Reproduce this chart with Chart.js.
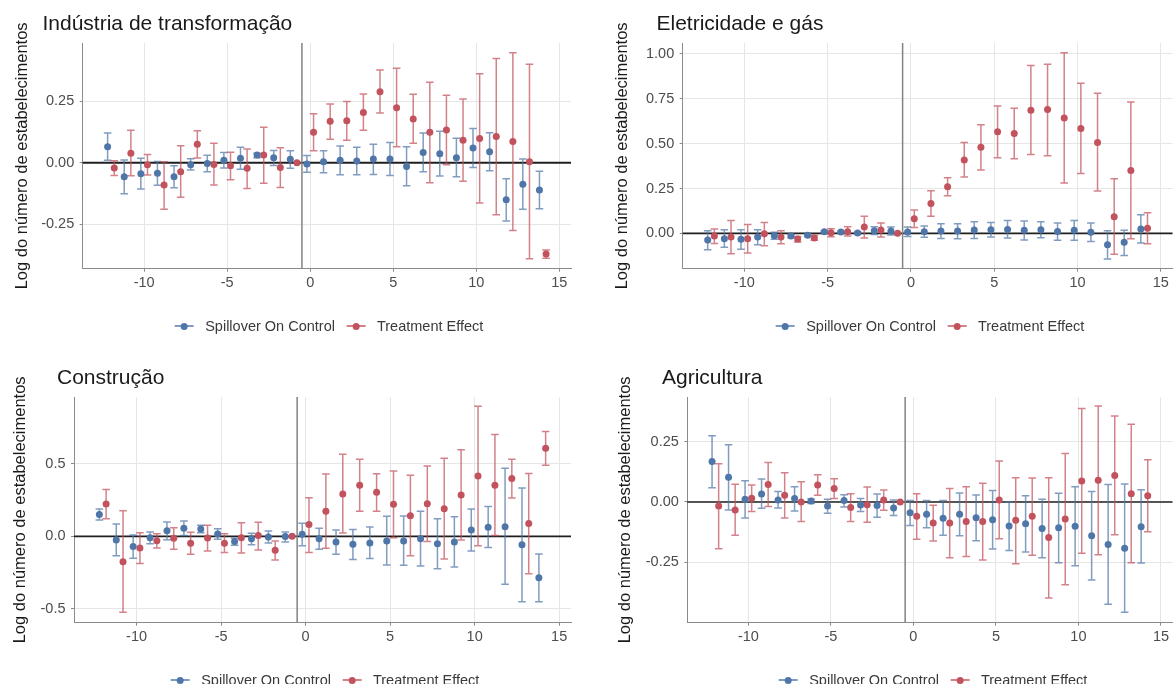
<!DOCTYPE html>
<html>
<head>
<meta charset="utf-8">
<script src="https://cdn.jsdelivr.net/npm/chart.js@4.4.1/dist/chart.umd.min.js"></script>
<style>
  html, body { margin: 0; padding: 0; background: #fff; }
  body { width: 1176px; height: 684px; overflow: hidden; position: relative;
         font-family: "Liberation Sans", Arial, sans-serif; }
  .panel { position: absolute; }
  .panel canvas { position: absolute; left: 0; top: 0; }
  .title { position: absolute; font-size: 21px; line-height: 21px; color: #1a1a1a; white-space: nowrap; }
  .legend { position: absolute; display: flex; align-items: center; transform: translate(-50%, -50%);
            font-size: 14.5px; line-height: 16px; color: #3a3a3a; white-space: nowrap; }
  .item { display: flex; align-items: center; }
  .item + .item { margin-left: 11.5px; }
  .key { position: relative; width: 19px; height: 8px; margin-right: 11.5px; }
  .key::before { content: ""; position: absolute; left: 0; right: 0; top: 3.25px; height: 1.5px; background: var(--bar); }
  .key::after { content: ""; position: absolute; left: 6px; top: 0.5px; width: 7px; height: 7px; border-radius: 50%; background: var(--dot); }
</style>
</head>
<body>
<script>
// Event time relative to treatment
const periods = [-12, -11, -10, -9, -8, -7, -6, -5, -4, -3, -2, -1, 0, 1, 2, 3, 4, 5, 6, 7, 8, 9, 10, 11, 12, 13, 14];
const xTicks = [-10, -5, 0, 5, 10, 15];
const seriesNames = ['Spillover On Control', 'Treatment Effect'];
const panelTitles = ['Indústria de transformação', 'Eletricidade e gás', 'Construção', 'Agricultura'];
const yAxisTitle = 'Log do número de estabelecimentos';

// Indústria de transformação
const manufSpillEst = [0.065, -0.057, -0.045, -0.043, -0.057, -0.008, -0.003, 0.010, 0.018, 0.031, 0.020, 0.014, -0.005, 0.004, 0.010, 0.007, 0.015, 0.015, -0.015, 0.042, 0.037, 0.020, 0.060, 0.045, -0.151, -0.088, -0.111];
const manufSpillLo  = [0.010, -0.126, -0.107, -0.092, -0.102, -0.030, -0.037, -0.022, -0.027, 0.020, -0.011, -0.023, -0.039, -0.041, -0.049, -0.049, -0.048, -0.052, -0.094, -0.037, -0.054, -0.057, -0.019, -0.033, -0.238, -0.190, -0.188];
const manufSpillHi  = [0.121, 0.011, 0.018, 0.005, -0.012, 0.016, 0.030, 0.042, 0.063, 0.039, 0.050, 0.049, 0.029, 0.049, 0.068, 0.063, 0.075, 0.082, 0.065, 0.121, 0.128, 0.100, 0.139, 0.122, -0.065, 0.015, -0.035];
const manufTreatEst = [-0.022, 0.039, -0.008, -0.091, -0.037, 0.075, -0.007, -0.012, -0.023, 0.031, -0.019, 0, 0.124, 0.169, 0.171, 0.205, 0.289, 0.224, 0.178, 0.124, 0.133, 0.092, 0.099, 0.107, 0.086, 0.004, -0.372];
const manufTreatLo  = [-0.052, -0.053, -0.050, -0.190, -0.141, 0.019, -0.091, -0.069, -0.105, -0.084, -0.101, null, 0.049, 0.096, 0.092, 0.132, 0.203, 0.065, 0.079, -0.082, -0.008, -0.076, -0.164, -0.212, -0.276, -0.391, -0.389];
const manufTreatHi  = [0.008, 0.132, 0.033, 0.004, 0.069, 0.130, 0.079, 0.043, 0.056, 0.145, 0.061, null, 0.200, 0.239, 0.250, 0.280, 0.378, 0.385, 0.279, 0.328, 0.275, 0.260, 0.363, 0.425, 0.448, 0.401, -0.356];

// Eletricidade e gás
const elecSpillEst = [-0.037, -0.030, -0.033, -0.020, -0.013, -0.015, -0.011, 0.009, 0.007, 0.002, 0.015, 0.013, 0.008, 0.009, 0.013, 0.013, 0.019, 0.020, 0.022, 0.017, 0.020, 0.011, 0.017, 0.006, -0.063, -0.050, 0.024];
const elecSpillLo  = [-0.091, -0.078, -0.089, -0.063, -0.033, -0.024, -0.018, 0.003, 0.001, -0.004, -0.007, -0.009, -0.017, -0.022, -0.028, -0.030, -0.028, -0.020, -0.026, -0.037, -0.024, -0.039, -0.039, -0.045, -0.143, -0.123, -0.054];
const elecSpillHi  = [0.015, 0.020, 0.020, 0.020, 0.006, -0.007, -0.004, 0.015, 0.013, 0.008, 0.037, 0.035, 0.035, 0.041, 0.054, 0.054, 0.065, 0.061, 0.071, 0.069, 0.065, 0.058, 0.072, 0.058, 0.015, 0.017, 0.104];
const elecTreatEst = [-0.015, -0.020, -0.030, -0.002, -0.020, -0.032, -0.026, 0.004, 0.009, 0.035, 0.019, 0, 0.082, 0.167, 0.260, 0.409, 0.480, 0.567, 0.556, 0.686, 0.690, 0.643, 0.584, 0.507, 0.093, 0.351, 0.028];
const elecTreatLo  = [-0.056, -0.113, -0.110, -0.069, -0.058, -0.048, -0.039, -0.019, -0.015, -0.026, -0.020, null, 0.033, 0.095, 0.210, 0.314, 0.353, 0.422, 0.416, 0.439, 0.433, 0.281, 0.333, 0.236, -0.117, -0.030, -0.058];
const elecTreatHi  = [0.024, 0.072, 0.050, 0.060, 0.015, -0.017, -0.011, 0.026, 0.037, 0.095, 0.058, null, 0.130, 0.238, 0.310, 0.506, 0.606, 0.710, 0.697, 0.935, 0.942, 1.006, 0.836, 0.781, 0.305, 0.732, 0.115];

// Construção
const constSpillEst = [0.150, -0.025, -0.071, -0.009, 0.039, 0.055, 0.051, 0.016, -0.035, -0.016, -0.005, -0.002, 0.014, -0.016, -0.039, -0.055, -0.046, -0.032, -0.032, -0.016, -0.051, -0.039, 0.044, 0.062, 0.067, -0.058, -0.286];
const constSpillLo  = [0.113, -0.134, -0.152, -0.051, -0.023, 0.005, 0.025, -0.021, -0.062, -0.058, -0.046, -0.039, -0.065, -0.090, -0.124, -0.161, -0.154, -0.198, -0.200, -0.205, -0.224, -0.212, -0.101, -0.078, -0.332, -0.452, -0.452];
const constSpillHi  = [0.189, 0.085, 0.009, 0.030, 0.099, 0.106, 0.076, 0.053, -0.014, 0.021, 0.037, 0.030, 0.090, 0.055, 0.044, 0.048, 0.065, 0.138, 0.141, 0.173, 0.122, 0.136, 0.189, 0.207, 0.470, 0.334, -0.122];
const constTreatEst = [0.224, -0.175, -0.081, -0.030, -0.014, -0.048, -0.012, -0.048, -0.009, 0.005, -0.097, 0, 0.081, 0.173, 0.293, 0.353, 0.304, 0.221, 0.143, 0.226, 0.191, 0.286, 0.417, 0.353, 0.399, 0.088, 0.608];
const constTreatLo  = [0.122, -0.525, -0.187, -0.081, -0.090, -0.124, -0.101, -0.111, -0.115, -0.094, -0.164, null, -0.111, -0.083, 0.023, 0.173, 0.173, -0.009, -0.134, -0.035, -0.157, -0.025, -0.065, 0.005, 0.265, -0.258, 0.491];
const constTreatHi  = [0.323, 0.177, 0.025, 0.018, 0.060, 0.028, 0.076, 0.018, 0.094, 0.097, -0.032, null, 0.267, 0.431, 0.567, 0.532, 0.433, 0.452, 0.422, 0.486, 0.539, 0.599, 0.899, 0.703, 0.532, 0.435, 0.724];

// Agricultura
const agriSpillEst = [0.167, 0.102, 0.011, 0.033, 0.008, 0.014, 0.004, -0.017, 0.006, -0.012, -0.015, -0.025, -0.045, -0.051, -0.067, -0.051, -0.065, -0.073, -0.099, -0.090, -0.110, -0.107, -0.100, -0.140, -0.176, -0.191, -0.102];
const agriSpillLo  = [0.059, -0.033, -0.066, -0.026, -0.025, -0.037, -0.006, -0.047, -0.021, -0.039, -0.063, -0.056, -0.097, -0.107, -0.138, -0.140, -0.160, -0.194, -0.201, -0.207, -0.231, -0.251, -0.264, -0.322, -0.423, -0.456, -0.252];
const agriSpillHi  = [0.274, 0.237, 0.088, 0.095, 0.043, 0.063, 0.012, 0.011, 0.030, 0.014, 0.033, 0.008, 0.006, 0.006, 0.006, 0.037, 0.029, 0.048, 0.000, 0.026, 0.011, 0.036, 0.063, 0.043, 0.072, 0.074, 0.051];
const agriTreatEst = [-0.017, -0.033, 0.015, 0.072, 0.028, 0.000, 0.070, 0.056, -0.023, -0.011, 0.008, 0, -0.059, -0.087, -0.087, -0.081, -0.081, 0.008, -0.076, -0.059, -0.147, -0.070, 0.087, 0.090, 0.110, 0.034, 0.026];
const agriTreatLo  = [-0.193, -0.138, -0.039, -0.019, -0.066, -0.081, 0.028, 0.014, -0.081, -0.084, -0.034, null, -0.154, -0.161, -0.230, -0.225, -0.240, -0.152, -0.255, -0.220, -0.397, -0.342, -0.212, -0.218, -0.135, -0.251, -0.123];
const agriTreatHi  = [0.158, 0.073, 0.070, 0.163, 0.121, 0.084, 0.113, 0.096, 0.034, 0.062, 0.050, null, 0.034, -0.014, 0.056, 0.063, 0.077, 0.169, 0.100, 0.099, 0.100, 0.200, 0.386, 0.397, 0.355, 0.321, 0.175];

// Y axis ticks per panel
const manufYTicks = [-0.25, 0, 0.25];
const elecYTicks = [0, 0.25, 0.5, 0.75, 1];
const constYTicks = [-0.5, 0, 0.5];
const agriYTicks = [-0.25, 0, 0.25];

const BLUE = '#4f76a8';
const BLUE_BAR = 'rgba(79,118,168,0.72)';
const RED = '#c2525d';
const RED_BAR = 'rgba(194,82,93,0.72)';
const DODGE = 0.2;
const EVENT_LINE = -0.5;
const X_MIN = -13.7, X_MAX = 15.7;
const POINT_R = 3.5;

Chart.defaults.font.family = '"Liberation Sans", Arial, sans-serif';

// Draws reference lines and confidence intervals behind the points
const errorBarPlugin = {
  id: 'errorBars',
  beforeDatasetsDraw(chart, args, opts) {
    const { ctx, chartArea: a, scales: { x, y } } = chart;
    ctx.save();
    const y0 = y.getPixelForValue(0);
    ctx.strokeStyle = '#1f1f1f';
    ctx.lineWidth = opts.zeroWidth || 1.6;
    ctx.beginPath(); ctx.moveTo(a.left, y0); ctx.lineTo(a.right, y0); ctx.stroke();
    const xv = x.getPixelForValue(EVENT_LINE);
    ctx.strokeStyle = '#828282';
    ctx.lineWidth = 1.5;
    ctx.beginPath(); ctx.moveTo(xv, a.top); ctx.lineTo(xv, a.bottom); ctx.stroke();

    const cap = 3.8;
    chart.data.datasets.forEach(ds => {
      ctx.strokeStyle = ds.barColor;
      ctx.lineWidth = 1.5;
      ds.data.forEach((pt, i) => {
        const lo = ds.errLo[i], hi = ds.errHi[i];
        if (lo == null || hi == null) return;
        const px = x.getPixelForValue(pt.x);
        const pl = y.getPixelForValue(lo), ph = y.getPixelForValue(hi);
        ctx.beginPath();
        ctx.moveTo(px, pl); ctx.lineTo(px, ph);
        ctx.moveTo(px - cap, pl); ctx.lineTo(px + cap, pl);
        ctx.moveTo(px - cap, ph); ctx.lineTo(px + cap, ph);
        ctx.stroke();
      });
    });
    ctx.restore();
  }
};

function makePanel(cfg) {
  const div = document.createElement('div');
  div.className = 'panel';
  div.style.left = cfg.x0 + 'px';
  div.style.top = cfg.y0 + 'px';
  div.style.width = cfg.w + 'px';
  div.style.height = cfg.h + 'px';
  document.body.appendChild(div);

  const canvas = document.createElement('canvas');
  canvas.width = cfg.w; canvas.height = cfg.h;
  canvas.style.width = cfg.w + 'px'; canvas.style.height = cfg.h + 'px';
  div.appendChild(canvas);

  const title = document.createElement('div');
  title.className = 'title';
  title.textContent = cfg.title;
  title.style.left = cfg.titleX + 'px';
  title.style.top = '12px';
  div.appendChild(title);

  const legend = document.createElement('div');
  legend.className = 'legend';
  legend.style.left = cfg.legendX + 'px';
  legend.style.top = cfg.legendY + 'px';
  [[seriesNames[0], BLUE, BLUE_BAR], [seriesNames[1], RED, RED_BAR]].forEach(([name, dot, bar]) => {
    const item = document.createElement('span');
    item.className = 'item';
    const key = document.createElement('span');
    key.className = 'key';
    key.style.setProperty('--dot', dot);
    key.style.setProperty('--bar', bar);
    const label = document.createElement('span');
    label.textContent = name;
    item.appendChild(key); item.appendChild(label);
    legend.appendChild(item);
  });
  div.appendChild(legend);

  const plotTop = 43, plotBottom = 268.7;
  const xAxisH = 30;
  const tickFont = { size: 14.5 };
  const titleFontSize = 16.5;
  const titleLH = titleFontSize * 1.2;

  new Chart(canvas.getContext('2d'), {
    type: 'scatter',
    data: {
      datasets: [
        { label: seriesNames[0], data: periods.map((t, i) => ({ x: t - DODGE, y: cfg.spill[i] })),
          errLo: cfg.spillLo, errHi: cfg.spillHi, barColor: BLUE_BAR,
          backgroundColor: BLUE, borderColor: BLUE, pointRadius: POINT_R, pointHoverRadius: POINT_R, borderWidth: 0 },
        { label: seriesNames[1], data: periods.map((t, i) => ({ x: t + DODGE, y: cfg.treat[i] })),
          errLo: cfg.treatLo, errHi: cfg.treatHi, barColor: RED_BAR,
          backgroundColor: RED, borderColor: RED, pointRadius: POINT_R, pointHoverRadius: POINT_R, borderWidth: 0 }
      ]
    },
    options: {
      responsive: false,
      animation: false,
      events: [],
      layout: { padding: { left: 0, right: cfg.padRight, top: plotTop, bottom: cfg.h - plotBottom - xAxisH } },
      plugins: {
        legend: { display: false },
        tooltip: { enabled: false },
        errorBars: { zeroWidth: cfg.zeroWidth }
      },
      scales: {
        x: {
          type: 'linear', position: 'bottom', min: X_MIN, max: X_MAX,
          afterBuildTicks: s => { s.ticks = xTicks.map(v => ({ value: v })); },
          afterFit: s => { s.height = xAxisH; },
          grid: { color: '#e6e6e6', lineWidth: 1, drawTicks: true, tickLength: 3, tickColor: '#8a8a8a', tickWidth: 1 },
          border: { display: true, color: '#8a8a8a', width: 1 },
          ticks: { color: '#4d4d4d', font: tickFont, padding: 2.5, autoSkip: false, maxRotation: 0,
                   callback: v => String(v) }
        },
        y: {
          type: 'linear', position: 'left', min: cfg.yMin, max: cfg.yMax,
          afterBuildTicks: s => { s.ticks = cfg.yTicks.map(v => ({ value: v })); },
          afterFit: s => { s.width = cfg.plotLeft; },
          grid: { color: '#e6e6e6', lineWidth: 1, drawTicks: true, tickLength: 3, tickColor: '#8a8a8a', tickWidth: 1 },
          border: { display: true, color: '#8a8a8a', width: 1 },
          ticks: { color: '#4d4d4d', font: tickFont, padding: 5.5, autoSkip: false,
                   callback: v => v.toFixed(cfg.dec) },
          title: { display: true, text: yAxisTitle, color: '#1a1a1a',
                   font: { size: titleFontSize, lineHeight: 1.2 },
                   padding: { top: cfg.yTitleX - titleLH / 2, bottom: 0 } }
        }
      }
    },
    plugins: [errorBarPlugin]
  });
}

makePanel({ x0: 0, y0: 0, w: 588, h: 342, plotLeft: 82.7, padRight: 17,
  yMin: -0.432, yMax: 0.488, yTicks: manufYTicks, dec: 2, yTitleX: 22.5, zeroWidth: 2,
  title: panelTitles[0], titleX: 42.5, legendX: 329, legendY: 326,
  spill: manufSpillEst, spillLo: manufSpillLo, spillHi: manufSpillHi,
  treat: manufTreatEst, treatLo: manufTreatLo, treatHi: manufTreatHi });

makePanel({ x0: 588, y0: 0, w: 588, h: 342, plotLeft: 94.7, padRight: 0,
  yMin: -0.197, yMax: 1.061, yTicks: elecYTicks, dec: 2, yTitleX: 34.5, zeroWidth: 1.6,
  title: panelTitles[1], titleX: 68.5, legendX: 342, legendY: 326,
  spill: elecSpillEst, spillLo: elecSpillLo, spillHi: elecSpillHi,
  treat: elecTreatEst, treatLo: elecTreatLo, treatHi: elecTreatHi });

makePanel({ x0: 0, y0: 354, w: 588, h: 330, plotLeft: 74, padRight: 17,
  yMin: -0.597, yMax: 0.963, yTicks: constYTicks, dec: 1, yTitleX: 20, zeroWidth: 1.6,
  title: panelTitles[2], titleX: 57, legendX: 325, legendY: 326,
  spill: constSpillEst, spillLo: constSpillLo, spillHi: constSpillHi,
  treat: constTreatEst, treatLo: constTreatLo, treatHi: constTreatHi });

makePanel({ x0: 588, y0: 354, w: 588, h: 330, plotLeft: 99.3, padRight: 0,
  yMin: -0.499, yMax: 0.434, yTicks: agriYTicks, dec: 2, yTitleX: 37, zeroWidth: 1.6,
  title: panelTitles[3], titleX: 74, legendX: 345, legendY: 326,
  spill: agriSpillEst, spillLo: agriSpillLo, spillHi: agriSpillHi,
  treat: agriTreatEst, treatLo: agriTreatLo, treatHi: agriTreatHi });
</script>
</body>
</html>
